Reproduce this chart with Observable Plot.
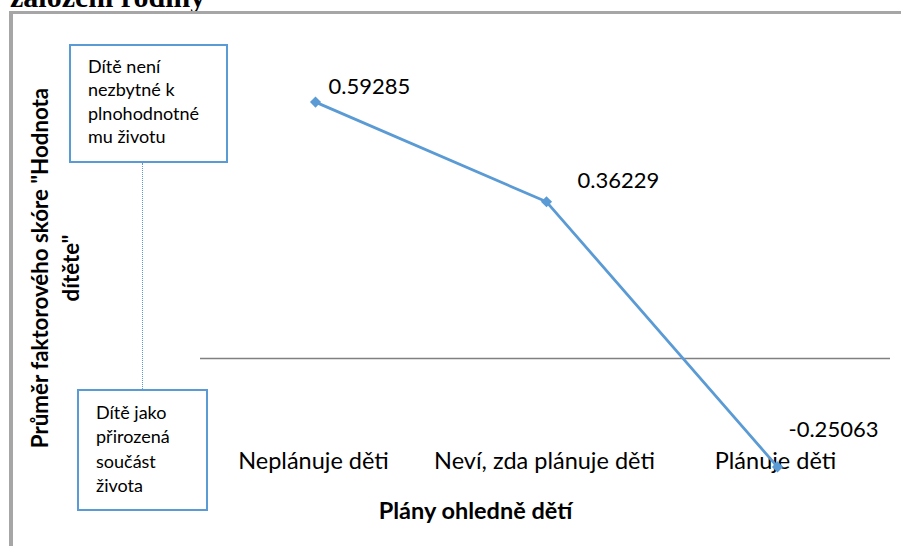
<!DOCTYPE html>
<html>
<head>
<meta charset="utf-8">
<script src="https://cdn.jsdelivr.net/npm/d3@7"></script>
<script src="https://cdn.jsdelivr.net/npm/@observablehq/plot@0.6"></script>
<style>
  html, body { margin: 0; padding: 0; background: #fff; overflow: hidden; }
  #wrap { position: relative; width: 901px; height: 546px; overflow: hidden; font-family: Lato, "Open Sans", sans-serif; }
  #title { position: absolute; left: 10px; top: -18px; font-family: "Liberation Serif", "Times New Roman", serif; font-weight: bold; font-size: 30px; line-height: 1; white-space: nowrap; color: #000; }
  #frame { position: absolute; left: 9px; top: 11px; width: 920px; height: 600px; border-left: 4px solid #a6a6a6; border-top: 3px solid #a6a6a6; }
  #chart { position: absolute; left: 0; top: 0; }
  .box { position: absolute; box-sizing: border-box; border: 2px solid #5b9bd5; background: #fff; padding-left: 17px; font-size: 18px; color: #000; white-space: nowrap; }
  #box1 { left: 69px; top: 44px; width: 159px; height: 119px; padding-top: 9px; line-height: 23.3px; }
  #box2 { left: 77px; top: 389px; width: 131px; height: 122px; padding-top: 9px; line-height: 24.3px; }
  #connector { position: absolute; left: 142px; top: 163px; height: 226px; width: 0; border-left: 1px dotted #5b9bd5; }
</style>
</head>
<body>
<div id="wrap">
  <div id="title"></div>
  <div id="frame"></div>
  <div id="connector"></div>
  <div id="chart"></div>
  <div class="box" id="box1"></div>
  <div class="box" id="box2"></div>
</div>
<script>
// ---- data ----
const pageTitle = "založení rodiny";
const categories = ["Neplánuje děti", "Neví, zda plánuje děti", "Plánuje děti"];
const values = [0.59285, 0.36229, -0.25063];
const valueLabels = ["0.59285", "0.36229", "-0.25063"];
const xTitle = "Plány ohledně dětí";
const yTitleLines = ["Průměr faktorového skóre \"Hodnota", "dítěte\""];
const topBoxLines = ["Dítě není", "nezbytné k", "plnohodnotné", "mu životu"];
const bottomBoxLines = ["Dítě jako", "přirozená", "součást", "života"];

const data = categories.map((c, i) => ({category: c, value: values[i], label: valueLabels[i]}));

document.getElementById("title").textContent = pageTitle;
document.getElementById("box1").innerHTML = topBoxLines.map(t => `<div>${t}</div>`).join("");
document.getElementById("box2").innerHTML = bottomBoxLines.map(t => `<div>${t}</div>`).join("");

const blue = "#5b9bd5";
const font = "Lato, 'Open Sans', sans-serif";
const labelOffsets = [[13, -15], [31, -21], [11, -37]];

const chart = Plot.plot({
  width: 901,
  height: 546,
  marginLeft: 200,
  marginRight: 11,
  marginTop: 0,
  marginBottom: 85,
  style: {background: "transparent", fontFamily: font, color: "#000"},
  x: {type: "point", domain: categories, range: [315, 777], padding: 0, axis: null},
  y: {domain: [-1, 1], range: [358 + 432.5, 358 - 432.5], axis: null},
  marks: [
    Plot.ruleY([0], {stroke: "#808080", strokeWidth: 1.5}),
    // category labels
    Plot.text(categories, {x: d => d, frameAnchor: "bottom", lineAnchor: "middle", dx: -2, fontSize: 23.5, fill: "#000"}),
    // axis titles
    Plot.text([xTitle], {frameAnchor: "bottom", dx: -70, dy: 57, fontSize: 23.5, fontWeight: "bold", fill: "#000"}),
    Plot.text([yTitleLines.join("\n")], {frameAnchor: "left", textAnchor: "middle", rotate: -90, dx: -147, dy: 37, fontSize: 22.3, fontWeight: "bold", lineHeight: 1.38, fill: "#000"}),
    // series
    Plot.line(data, {x: "category", y: "value", stroke: blue, strokeWidth: 2.8}),
    Plot.dot(data, {x: "category", y: "value", symbol: "diamond2", r: 5, fill: blue, stroke: "none"}),
    ...data.map((d, i) => Plot.text([d], {x: "category", y: "value", text: "label", textAnchor: "start", lineAnchor: "middle", dx: labelOffsets[i][0], dy: labelOffsets[i][1], fontSize: 22, fill: "#000"}))
  ]
});
document.getElementById("chart").appendChild(chart);
</script>
</body>
</html>
